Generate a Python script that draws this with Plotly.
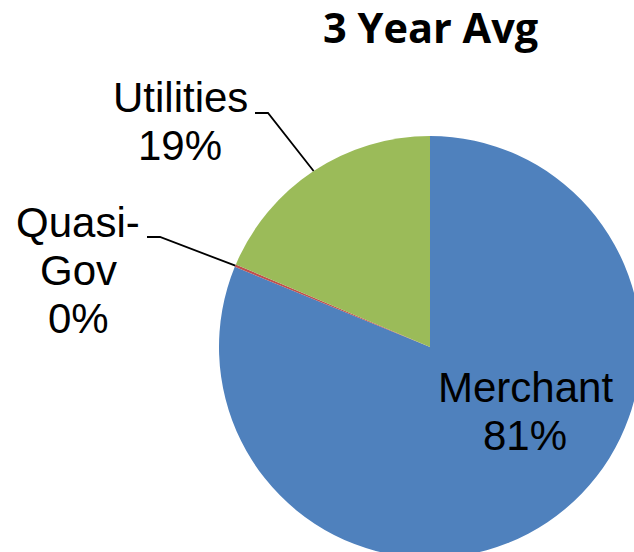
import math
import plotly.graph_objects as go

# ---- data ----
categories = ["Merchant", "Quasi-Gov", "Utilities"]
label_lines = [["Merchant"], ["Quasi-", "Gov"], ["Utilities"]]
values = [81.2, 0.2, 18.6]
colors = ["#4F81BD", "#C0504D", "#9BBB59"]
title_text = "3 Year Avg"

# ---- layout geometry (pixels in the visible 634x552 view) ----
W, H = 660, 580
cx, cy, r = 430, 347, 211

def px(x):
    return x / W

def py(y):
    return 1 - y / H

fig = go.Figure(go.Pie(
    labels=categories,
    values=values,
    sort=False,
    direction="clockwise",
    rotation=0,
    marker=dict(colors=colors, line=dict(width=0)),
    textinfo="none",
    hoverinfo="label+percent",
    showlegend=False,
    domain=dict(x=[px(cx - r), px(cx + r)], y=[py(cy + r), py(cy - r)]),
))

total = sum(values)
pcts = [f"{round(v / total * 100)}%" for v in values]

# mid angles of slices (clockwise from 12 o'clock)
mids = []
acc = 0.0
for v in values:
    a0 = acc / total * 360
    acc += v
    a1 = acc / total * 360
    mids.append((a0 + a1) / 2)

def edge_point(angle_deg):
    a = math.radians(angle_deg)
    return cx + r * math.sin(a), cy - r * math.cos(a)

annotations = []
label_font = dict(family="Liberation Sans, Arial, sans-serif", size=42, color="black")
line_gap = 48

# label placement: (center x, baseline of first line, has leader)
placements = {
    "Merchant": (525, 401.7, False),
    "Quasi-Gov": (78, 236.7, True),
    "Utilities": (180, 111.7, True),
}
elbows = {
    "Quasi-Gov": (147, 237, 160, 237),
    "Utilities": (255, 113, 268, 113),
}

shapes = []
for i, cat in enumerate(categories):
    lx, base, leader = placements[cat]
    lines = label_lines[i] + [pcts[i]]
    for k, t in enumerate(lines):
        b = base + k * line_gap
        annotations.append(dict(
            text=t, x=px(lx), y=py(b - 14.6), xref="paper", yref="paper",
            xanchor="center", yanchor="middle", showarrow=False, font=label_font,
        ))
    if leader:
        x0, y0, x1, y1 = elbows[cat]
        ex, ey = edge_point(mids[i])
        path = (f"M {px(x0)} {py(y0)} L {px(x1)} {py(y1)} L {px(ex)} {py(ey)}")
        shapes.append(dict(type="path", path=path, xref="paper", yref="paper",
                           line=dict(color="black", width=1.8)))

title_size = 41.5
title_base = 44.5
annotations.append(dict(
    text=f"<b>{title_text}</b>", x=px(430), y=py(title_base), xref="paper", yref="paper",
    xanchor="center", yanchor="bottom", yshift=-0.293 * title_size, showarrow=False,
    font=dict(family="Open Sans, sans-serif", size=title_size, color="black"),
))

fig.update_layout(
    width=W, height=H,
    margin=dict(l=0, r=0, t=0, b=0),
    paper_bgcolor="white",
    plot_bgcolor="white",
    annotations=annotations,
    shapes=shapes,
)

fig.write_html(
    "out.html",
    config={"displayModeBar": False},
    post_script="document.body.style.margin='0';document.body.style.overflow='hidden';",
)
